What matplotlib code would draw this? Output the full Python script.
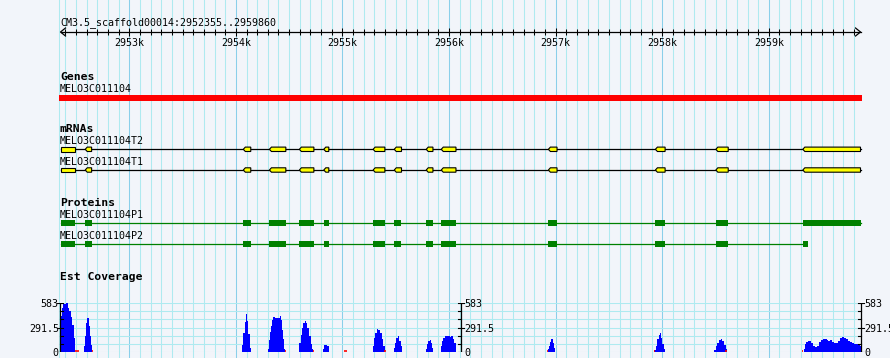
"""GBrowse-style view of MELO3C011104 on CM3.5_scaffold00014."""

import matplotlib.pyplot as plt
import numpy as np

# region shown
seq_start, seq_end = 2952355, 2959860
ruler_labels = ["2953k", "2954k", "2955k", "2956k", "2957k", "2958k", "2959k"]
ruler_major = [2953000, 2954000, 2955000, 2956000, 2957000, 2958000, 2959000]

# gene / transcript structure (bp)
exon_start = [2952355, 2952587, 2954070, 2954315, 2954596, 2954825, 2955288,
              2955486, 2955786, 2955927, 2956932, 2957936, 2958503, 2959319]
exon_end = [2952487, 2952647, 2954140, 2954469, 2954732, 2954872, 2955398,
            2955554, 2955849, 2956065, 2957013, 2958027, 2958619, 2959860]
p2_end = 2959366  # P2 stops early in the last block

# est coverage, one line per peak (position bp, depth)
cov_pos = [
    2952356, 2952371, 2952380, 2952396, 2952406, 2952418, 2952427, 2952437, 2952450, 2952465, 2952481, 2952487,
    2952575, 2952584, 2952596, 2952606, 2952615, 2952625, 2952634, 2952640, 2952647,
    2954058, 2954071, 2954084, 2954096, 2954105, 2954118, 2954131, 2954140,
    2954300, 2954312, 2954321, 2954331, 2954343, 2954352, 2954368, 2954415, 2954425, 2954434, 2954446, 2954456, 2954462,
    2954594, 2954610, 2954622, 2954634, 2954650, 2954660, 2954672, 2954688, 2954704, 2954719, 2954728,
    2954816, 2954828, 2954844, 2954857, 2954873,
    2955282, 2955295, 2955307, 2955323, 2955338, 2955354, 2955370, 2955382, 2955395,
    2955486, 2955495, 2955507, 2955520, 2955533, 2955545, 2955558,
    2955783, 2955793, 2955805, 2955817, 2955830, 2955842, 2955849,
    2955924, 2955934, 2955946, 2955958, 2955974, 2955990, 2956005, 2956021, 2956037, 2956049, 2956061, 2956068,
    2956929, 2956941, 2956950, 2956960, 2956972, 2956985, 2956997,
    2957927, 2957937, 2957953, 2957965, 2957977, 2957990, 2958002, 2958015, 2958028,
    2958490, 2958503, 2958516, 2958531, 2958547, 2958563, 2958578, 2958594, 2958603,
    2959326, 2959338, 2959352, 2959364, 2959383, 2959398, 2959417, 2959432, 2959451, 2959470, 2959489,
    2959507, 2959526, 2959545, 2959558, 2959570, 2959589, 2959611, 2959633, 2959652, 2959671, 2959690,
    2959708, 2959727, 2959746, 2959765, 2959783, 2959802, 2959821, 2959840, 2959858, 2959862,
]
cov_val = [
    430, 523, 575, 575, 583, 583, 523, 485, 413, 325, 167, 0,
    68, 195, 345, 405, 405, 305, 185, 85, 0,
    75, 228, 355, 460, 365, 208, 48, 0,
    28, 135, 235, 315, 380, 415, 405, 430, 385, 265, 147, 28, 0,
    107, 206, 285, 345, 370, 345, 285, 194, 87, 28, 0,
    36, 75, 75, 68, 0,
    68, 167, 226, 277, 265, 226, 147, 68, 0,
    48, 107, 167, 186, 127, 68, 0,
    28, 87, 127, 139, 107, 48, 0,
    68, 127, 167, 194, 186, 194, 178, 186, 158, 107, 48, 0,
    28, 68, 115, 147, 107, 48, 0,
    20, 68, 147, 206, 226, 167, 87, 36, 0,
    20, 68, 107, 139, 155, 131, 75, 36, 0,
    28, 87, 115, 127, 127, 107, 68, 55, 68, 115, 139,
    155, 147, 139, 127, 135, 115, 107, 99, 127, 167, 182,
    170, 147, 127, 115, 107, 95, 87, 75, 68, 0,
]
cov_max = 583
red_start = [2952488, 2952648, 2954461, 2954727, 2955017, 2955393, 2956916, 2957923, 2958591, 2959311]
red_end = [2952526, 2952660, 2954473, 2954736, 2955040, 2955406, 2956925, 2957932, 2958605, 2959323]

BG = "#f2f5fa"
GRID = "#aeeaf0"
GRID_MAJ = "#8acfea"
MONO = "DejaVu Sans Mono"

W, H = 890, 358
x0px = 60.5
bpp = (seq_end - seq_start) / 800

fig = plt.figure(figsize=(W / 100, H / 100), dpi=100)
fig.patch.set_facecolor(BG)
ax = fig.add_axes([0, 0, 1, 1])
ax.set_xlim(seq_start - x0px * bpp, seq_start + (W - x0px) * bpp)
ax.set_ylim(H, 0)
ax.axis("off")
xfig = ax.get_yaxis_transform()  # x in axes fraction, y in pixels

# vertical grid
for x in range(2952400, 2959900, 100):
    ax.axvline(x, color=GRID_MAJ if x % 1000 == 0 else GRID, lw=0.75, zorder=0)
ax.plot([59 / W, 59 / W], [0, H], color=GRID, lw=0.75, transform=xfig, zorder=0)

# ruler
ax.text(60 / W, 24.7, f"CM3.5_scaffold00014:{seq_start}..{seq_end}", transform=xfig,
        fontsize=7.2, family=MONO, va="baseline", ha="left")
ax.plot([seq_start, seq_end], [32, 32], color="black", lw=0.9)
ax.plot([seq_start + 5 * bpp, seq_start, seq_start + 5 * bpp], [28, 32, 36], color="black", lw=0.9)
ax.plot([seq_end - 5 * bpp, seq_end, seq_end - 5 * bpp], [28, 32, 36], color="black", lw=0.9)
minor = [x for x in range(2952400, 2959900, 100) if x % 1000 != 0]
ax.vlines(minor, 29.3, 34.7, color="black", lw=0.75)
ax.vlines(ruler_major, 28, 36, color="black", lw=0.75)
for x, lab in zip(ruler_major, ruler_labels):
    ax.text(x, 46, lab, ha="center", va="baseline", fontsize=7.2, family=MONO)

# track titles
for y, lab in [(80, "Genes"), (132.3, "mRNAs"), (206.3, "Proteins"), (280, "Est Coverage")]:
    ax.text(60 / W, y, lab, transform=xfig, fontsize=8.2, family=MONO,
            fontweight="bold", va="baseline")
for y, lab in [(92, "MELO3C011104"), (144.3, "MELO3C011104T2"), (165, "MELO3C011104T1"),
               (218.3, "MELO3C011104P1"), (239.3, "MELO3C011104P2")]:
    ax.text(60 / W, y, lab, transform=xfig, fontsize=7.2, family=MONO, va="baseline")

# gene
ax.fill_between([seq_start - 1.5 * bpp, seq_end + 1.5 * bpp], 95, 101, color="#ff0000", lw=0, zorder=3)

# mRNAs
notch = 2 * bpp
for yc in [149.3, 170]:
    ax.plot([seq_start, seq_end], [yc, yc], color="black", lw=0.9, zorder=3)
    for i, (s, e) in enumerate(zip(exon_start, exon_end)):
        if i == 0:
            xs = [s, e, e, s]
            ys = [yc - 2.2, yc - 2.2, yc + 2.2, yc + 2.2]
        else:
            xs = [s, s + notch, e, e, s + notch]
            ys = [yc, yc - 2.2, yc - 2.2, yc + 2.2, yc + 2.2]
        ax.fill(xs, ys, facecolor="#ffff00", edgecolor="black", lw=0.8, zorder=4)

# proteins
for yc, last in [(223.3, seq_end), (244.3, p2_end)]:
    line_end = seq_end if last == seq_end else exon_start[-1]
    ax.plot([seq_start, line_end], [yc, yc], color="#008000", lw=0.9, zorder=3)
    for s, e in zip(exon_start, exon_end[:-1] + [last]):
        ax.fill_between([s, e], yc - 3, yc + 3, color="#008000", lw=0, zorder=4)

# coverage panel
cov = fig.add_axes([0, (H - 351.7) / H, 1, 48.4 / H])
cov.set_xlim(ax.get_xlim())
cov.set_ylim(0, cov_max)
cov.axis("off")
ctr = cov.get_yaxis_transform()
levels = np.linspace(0, cov_max, 7)
for lv in levels:
    cov.plot([59 / W, 861 / W], [lv, lv], color=GRID, lw=0.75, transform=ctr, zorder=1)
cov.fill_between(cov_pos, cov_val, step="post", color="#0000ff", lw=0, zorder=3)
cov.hlines([6] * len(red_start), red_start, red_end, color="#ff0000", lw=1.2, zorder=3)

for axx, side in [(60.3, "left"), (460.7, "right"), (860.7, "right")]:
    xf = axx / W
    d = 3 / W
    cov.plot([xf, xf], [0, cov_max], color="black", lw=0.9, transform=ctr, zorder=5)
    for lv in levels:
        if side == "left":
            cov.plot([xf, xf + d * 0.8], [lv, lv], color="black", lw=0.8, transform=ctr, zorder=5)
        else:
            cov.plot([xf - d * 0.8, xf], [lv, lv], color="black", lw=0.8, transform=ctr, zorder=5)
    for lv, lab in [(0, "0"), (cov_max / 2, "291.5"), (cov_max, "583")]:
        if side == "left":
            cov.plot([xf - d, xf], [lv, lv], color="black", lw=0.8, transform=ctr, zorder=5)
            cov.text(xf - d * 0.5, lv, lab, transform=ctr, ha="right", va="center_baseline",
                     fontsize=7.2, family=MONO, zorder=6, clip_on=False)
        else:
            cov.plot([xf, xf + d], [lv, lv], color="black", lw=0.8, transform=ctr, zorder=5)
            cov.text(xf + d * 1.2, lv, lab, transform=ctr, ha="left", va="center_baseline",
                     fontsize=7.2, family=MONO, zorder=6, clip_on=False)

fig.savefig("out.png", dpi=100, facecolor=BG)
